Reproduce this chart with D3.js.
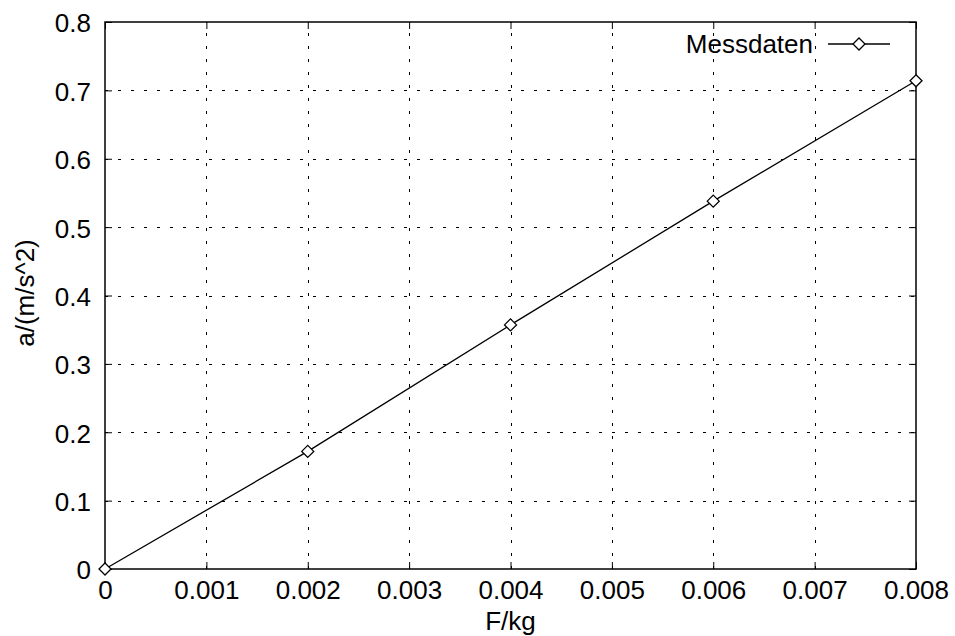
<!DOCTYPE html>
<html>
<head>
<meta charset="utf-8">
<script src="https://cdn.jsdelivr.net/npm/d3@7"></script>
<style>
  body { margin: 0; background: #fff; }
  text { font-family: "Liberation Sans", Arial, sans-serif; font-size: 26px; fill: #000; }
</style>
</head>
<body>
<svg width="955" height="636"></svg>
<script>
// measured data
var force = [0, 0.002, 0.004, 0.006, 0.008];
var accel = [0, 0.172, 0.357, 0.538, 0.714];
var xTicks = [0, 0.001, 0.002, 0.003, 0.004, 0.005, 0.006, 0.007, 0.008];
var yTicks = [0, 0.1, 0.2, 0.3, 0.4, 0.5, 0.6, 0.7, 0.8];

var margin = { left: 105, right: 39, top: 22, bottom: 67 };
var width = 955, height = 636;

var svg = d3.select("svg");

var x = d3.scaleLinear().domain([0, 0.008]).range([margin.left, width - margin.right]);
var y = d3.scaleLinear().domain([0, 0.8]).range([height - margin.bottom, margin.top]);

// grid
var grid = svg.append("g")
    .attr("stroke", "#000")
    .attr("stroke-width", 1)
    .attr("stroke-dasharray", "3,10");

grid.selectAll(".gx")
    .data(xTicks.slice(1, -1))
    .enter().append("line")
    .attr("x1", function(d) { return Math.round(x(d)) + 0.5; })
    .attr("x2", function(d) { return Math.round(x(d)) + 0.5; })
    .attr("y1", y(0))
    .attr("y2", y(0.8));

grid.selectAll(".gy")
    .data(yTicks.slice(1, -1))
    .enter().append("line")
    .attr("y1", function(d) { return Math.round(y(d)) + 0.5; })
    .attr("y2", function(d) { return Math.round(y(d)) + 0.5; })
    .attr("x1", x(0))
    .attr("x2", x(0.008));

// axes
var xAxis = d3.axisBottom(x).tickValues(xTicks).tickSize(-7).tickPadding(12)
    .tickFormat(function(d) { return d === 0 ? "0" : d3.format(".3f")(d); });
var yAxis = d3.axisLeft(y).tickValues(yTicks).tickSize(-7).tickPadding(14)
    .tickFormat(function(d) { return d === 0 ? "0" : d3.format(".1f")(d); });

svg.append("g").attr("transform", "translate(0," + y(0) + ")").call(xAxis);
var gy = svg.append("g").attr("transform", "translate(" + x(0) + ",0)").call(yAxis);
gy.selectAll(".tick text").attr("dy", "0.38em");
svg.append("g").attr("transform", "translate(0," + y(0.8) + ")")
    .call(d3.axisTop(x).tickValues(xTicks).tickSize(-7).tickFormat(""));
svg.append("g").attr("transform", "translate(" + x(0.008) + ",0)")
    .call(d3.axisRight(y).tickValues(yTicks).tickSize(-7).tickFormat(""));

svg.selectAll(".domain").remove();
svg.selectAll(".tick line").attr("stroke", "#000");
svg.selectAll(".tick text")
    .style("font-size", "26px")
    .style("font-family", "'Liberation Sans', Arial, sans-serif")
    .attr("fill", "#000");

// border
svg.append("rect")
    .attr("x", x(0)).attr("y", y(0.8))
    .attr("width", x(0.008) - x(0)).attr("height", y(0) - y(0.8))
    .attr("fill", "none").attr("stroke", "#000").attr("stroke-width", 1.5);

// axis labels
svg.append("text")
    .attr("x", (x(0) + x(0.008)) / 2).attr("y", 630)
    .attr("text-anchor", "middle").text("F/kg");
svg.append("text")
    .attr("transform", "translate(34,293) rotate(-90)")
    .attr("text-anchor", "middle").text("a/(m/s^2)");

// data line
var pts = force.map(function(f, i) { return [f, accel[i]]; });
var line = d3.line().x(function(d) { return x(d[0]); }).y(function(d) { return y(d[1]); });

svg.append("path")
    .datum(pts)
    .attr("d", line)
    .attr("fill", "none")
    .attr("stroke", "#000")
    .attr("stroke-width", 1.3);

var diamond = "M0,-6L6,0L0,6L-6,0Z";
svg.selectAll(".pt")
    .data(pts)
    .enter().append("path")
    .attr("d", diamond)
    .attr("transform", function(d) { return "translate(" + x(d[0]) + "," + y(d[1]) + ")"; })
    .attr("fill", "#fff")
    .attr("stroke", "#000")
    .attr("stroke-width", 1.3);

// legend
var ly = 44;
svg.append("text")
    .attr("x", 813).attr("y", ly + 9)
    .attr("text-anchor", "end").text("Messdaten");
svg.append("line")
    .attr("x1", 828).attr("x2", 890).attr("y1", ly).attr("y2", ly)
    .attr("stroke", "#000").attr("stroke-width", 1.3);
svg.append("path")
    .attr("d", diamond)
    .attr("transform", "translate(859," + ly + ")")
    .attr("fill", "#fff").attr("stroke", "#000").attr("stroke-width", 1.3);
</script>
</body>
</html>
